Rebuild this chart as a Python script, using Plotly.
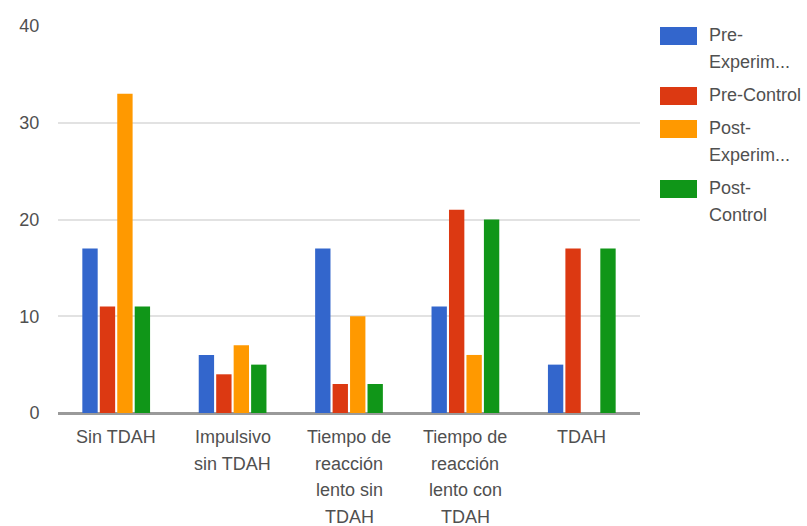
import plotly.graph_objects as go

# Categories, their wrapped tick labels, and the four series
categories = [
    "Sin TDAH",
    "Impulsivo sin TDAH",
    "Tiempo de reacción lento sin TDAH",
    "Tiempo de reacción lento con TDAH",
    "TDAH",
]
tick_lines = [
    ["Sin TDAH"],
    ["Impulsivo", "sin TDAH"],
    ["Tiempo de", "reacción", "lento sin", "TDAH"],
    ["Tiempo de", "reacción", "lento con", "TDAH"],
    ["TDAH"],
]
series_names = ["Pre-Experimental", "Pre-Control", "Post-Experimental", "Post-Control"]
legend_lines = [["Pre-", "Experim..."], ["Pre-Control"], ["Post-", "Experim..."], ["Post-", "Control"]]

pre_experimental = [17, 6, 17, 11, 5]
pre_control = [11, 4, 3, 21, 17]
post_experimental = [33, 7, 10, 6, 0]
post_control = [11, 5, 3, 20, 17]
series_values = [pre_experimental, pre_control, post_experimental, post_control]

y_ticks = [0, 10, 20, 30, 40]

colors = ["#3366cc", "#dc3912", "#ff9900", "#109618"]
FONT = "Liberation Sans, Arial, sans-serif"
TEXT_COLOR = "#505050"
FS = 18

W, H = 807, 526
ML, MR, MT, MB = 58, 167, 26, 113
PW, PH = W - ML - MR, H - MT - MB


def px_x(px):
    return (px - ML) / PW


def px_y(py):
    return (H - MB - py) / PH


fig = go.Figure()
for name, vals, col in zip(series_names, series_values, colors):
    fig.add_trace(go.Bar(x=categories, y=vals, name=name, marker_color=col,
                         marker_line_width=0, showlegend=False))

annotations = []
# multi-line category labels under the axis
for cat, lines in zip(categories, tick_lines):
    for i, line in enumerate(lines):
        annotations.append(dict(
            x=cat, xref="x", y=0, yref="y", yanchor="middle", xanchor="center",
            yshift=-(24 + 26.7 * i), text=line, showarrow=False,
            font=dict(family=FONT, size=FS, color=TEXT_COLOR)))

# legend on the right: colour swatch plus wrapped text
shapes = []
row_y = 35
LINE = 27
for lines, col in zip(legend_lines, colors):
    shapes.append(dict(type="rect", xref="paper", yref="paper",
                       x0=px_x(660), x1=px_x(697),
                       y0=px_y(row_y + 10), y1=px_y(row_y - 8),
                       fillcolor=col, line_width=0))
    for i, line in enumerate(lines):
        annotations.append(dict(
            x=px_x(707), xref="paper", y=px_y(row_y + LINE * i), yref="paper",
            xanchor="left", yanchor="middle", text=line, showarrow=False,
            font=dict(family=FONT, size=FS, color=TEXT_COLOR)))
    row_y += LINE * len(lines) + 6

fig.update_layout(
    width=W, height=H,
    margin=dict(l=ML, r=MR, t=MT, b=MB, pad=0),
    paper_bgcolor="white", plot_bgcolor="white",
    barmode="group", bargap=0.4, bargroupgap=0.12,
    showlegend=False,
    font=dict(family=FONT, size=FS, color=TEXT_COLOR),
    xaxis=dict(showticklabels=False, showgrid=False, zeroline=False,
               showline=False, fixedrange=True),
    yaxis=dict(range=[0, 40], tickvals=y_ticks, showgrid=True,
               gridcolor="#e2e2e2", gridwidth=2, zeroline=True,
               zerolinecolor="#9a9a9a", zerolinewidth=3, showline=False,
               ticks="outside", ticklen=14, tickcolor="rgba(0,0,0,0)",
               tickfont=dict(family=FONT, size=FS, color=TEXT_COLOR)),
    annotations=annotations,
    shapes=shapes,
)

fig.write_html("out.html")
